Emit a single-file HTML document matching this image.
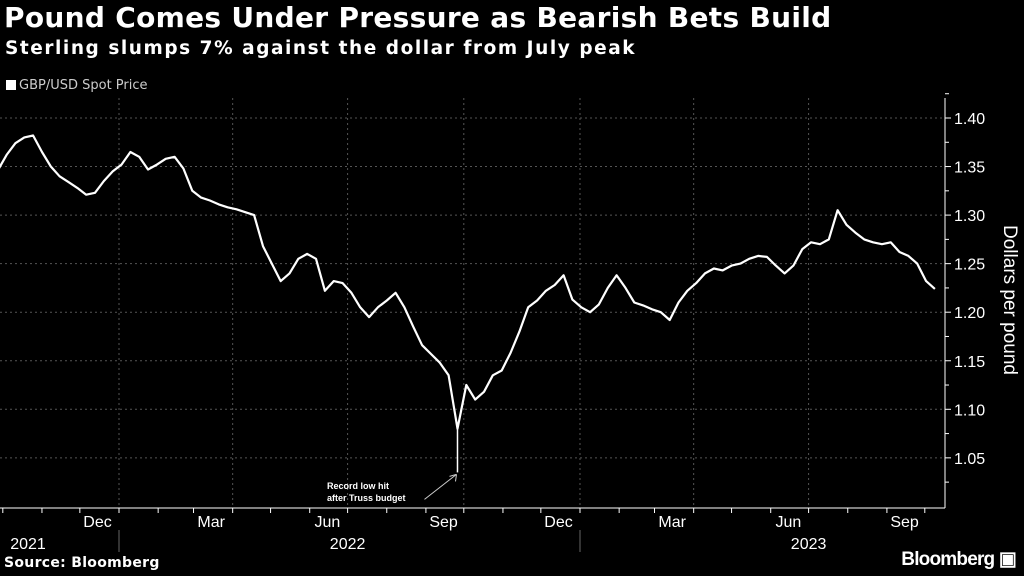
<!DOCTYPE html>
<html><head><meta charset="utf-8"><style>
body{margin:0;background:#000;width:1024px;height:576px;overflow:hidden;font-family:"Liberation Sans",sans-serif;color:#fff}
#title{position:absolute;left:4px;top:1px;font-size:28px;font-weight:bold;font-family:"DejaVu Sans",sans-serif;letter-spacing:0.3px;white-space:nowrap}
#sub{position:absolute;left:5px;top:38px;font-size:18.5px;font-weight:bold;font-family:"DejaVu Sans",sans-serif;letter-spacing:1.55px;white-space:nowrap}
#legend{position:absolute;left:6px;top:78px;font-size:13px;color:#ccc;font-family:"DejaVu Sans",sans-serif}
#legend span{display:inline-block;width:10px;height:10px;background:#fff;margin-right:3px;vertical-align:-1px}
#src{position:absolute;left:4px;top:555px;font-size:14px;font-weight:bold;font-family:"DejaVu Sans",sans-serif;letter-spacing:0.3px}
#logo{position:absolute;right:8px;top:548px;font-size:19px;font-weight:bold;letter-spacing:-0.8px}
svg{position:absolute;left:0;top:0}
</style></head><body>
<div id="title">Pound Comes Under Pressure as Bearish Bets Build</div>
<div id="sub">Sterling slumps 7% against the dollar from July peak</div>
<div id="legend"><span></span>GBP/USD Spot Price</div>
<div id="src">Source: Bloomberg</div>
<div id="logo">Bloomberg ▣</div>
<svg id="chart" width="1024" height="576"></svg>
<script>
const startDate = "2021-09-27";
const weeklyValues = [1.346,1.362,1.374,1.380,1.382,1.365,1.350,1.340,1.334,1.328,1.321,1.323,1.335,1.345,1.352,1.365,1.360,1.347,1.352,1.358,1.360,1.348,1.325,1.318,1.315,1.311,1.308,1.306,1.303,1.300,1.268,1.250,1.232,1.240,1.255,1.260,1.255,1.222,1.232,1.230,1.220,1.205,1.195,1.205,1.212,1.220,1.205,1.185,1.166,1.157,1.148,1.135,1.080,1.125,1.110,1.118,1.135,1.140,1.158,1.180,1.205,1.212,1.222,1.228,1.238,1.213,1.205,1.200,1.208,1.225,1.238,1.225,1.210,1.207,1.203,1.200,1.192,1.210,1.222,1.230,1.240,1.245,1.243,1.248,1.250,1.255,1.258,1.257,1.248,1.240,1.248,1.265,1.272,1.270,1.275,1.305,1.290,1.282,1.275,1.272,1.270,1.272,1.262,1.258,1.250,1.232,1.224];
const recordLowIndex = 52;
const recordLowValue = 1.035;
const yTicks = [1.05,1.10,1.15,1.20,1.25,1.30,1.35,1.40];
const yTickLabels = ["1.05","1.10","1.15","1.20","1.25","1.30","1.35","1.40"];
const monthLabels = ["Dec","Mar","Jun","Sep","Dec","Mar","Jun","Sep"];
const monthLabelDates = ["2021-12-15","2022-03-15","2022-06-15","2022-09-15","2022-12-15","2023-03-15","2023-06-15","2023-09-15"];
const yearLabels = ["2021","2022","2023"];

const svg=document.getElementById('chart');const NS='http://www.w3.org/2000/svg';
const PX_DAY=1.263, X0DATE=new Date("2022-01-01"), X0=119;
function xDate(d){return X0+(new Date(d)-X0DATE)/864e5*PX_DAY;}
function xIdx(i){return xDate(startDate)+i*7*PX_DAY;}
function y(v){return 118+(1.40-v)*971;}
function el(t,a,p){const e=document.createElementNS(NS,t);for(const k in a)e.setAttribute(k,a[k]);(p||svg).appendChild(e);return e;}
const L=0,R=945,T=98,B=508;
yTicks.forEach((v,i)=>{
 const g=el('line',{x1:L,x2:R,y1:y(v),y2:y(v),stroke:'#555','stroke-dasharray':'2,3'});
 
 
 el('line',{x1:R,x2:R+6,y1:y(v),y2:y(v),stroke:'#fff'});
 el('line',{x1:R,x2:R+4,y1:y(v+0.025),y2:y(v+0.025),stroke:'#fff'});
 const t=el('text',{x:R+9,y:y(v)+6,fill:'#fff','font-size':16});t.textContent=yTickLabels[i];
 
 
});
el('line',{x1:R,x2:R+4,y1:y(1.025),y2:y(1.025),stroke:'#fff'});
["2022-01-01","2022-04-01","2022-07-01","2022-10-01","2023-01-01","2023-04-01","2023-07-01"].forEach(d=>{
 const g=el('line',{x1:xDate(d),x2:xDate(d),y1:T,y2:B,stroke:'#555','stroke-dasharray':'2,3'});
 
 
});
const ya=el('line',{x1:R,x2:R,y1:T,y2:B,stroke:'#fff'});


const xa=el('line',{x1:0,x2:R,y1:B,y2:B,stroke:'#fff'});


for(let m=0;m<25;m++){const d=new Date(2021,9+m,1);const x=X0+(d-X0DATE)/864e5*PX_DAY;if(x>0&&x<R)el('line',{x1:x,x2:x,y1:B,y2:B+5,stroke:'#fff'});}
monthLabels.forEach((m,i)=>{const t=el('text',{x:xDate(monthLabelDates[i]),y:B+19,fill:'#fff','font-size':16,'text-anchor':'middle'});t.textContent=m;
 
 });
[[28],[xDate("2022-07-01")],[xDate("2023-07-01")]].forEach((p,i)=>{const t=el('text',{x:p[0],y:B+41,fill:'#fff','font-size':16,'text-anchor':'middle'});t.textContent=yearLabels[i];
 
 });
[xDate("2022-01-01"),xDate("2023-01-01")].forEach(x=>el('line',{x1:x,x2:x,y1:B+22,y2:B+44,stroke:'#666'}));
let d='';weeklyValues.forEach((v,i)=>{d+=(i?'L':'M')+xIdx(i).toFixed(1)+','+y(v).toFixed(1);});
const line=el('path',{d:d,fill:'none',stroke:'#fff','stroke-width':2.2,'stroke-linejoin':'round'});


const spike=el('line',{x1:xIdx(recordLowIndex),x2:xIdx(recordLowIndex),y1:y(weeklyValues[recordLowIndex]),y2:y(recordLowValue),stroke:'#fff','stroke-width':1.5});


const ax=xIdx(recordLowIndex)-1,ay=y(recordLowValue)+2;
el('line',{x1:ax-32,y1:ay+25,x2:ax,y2:ay,stroke:'#ccc'});
el('path',{d:`M${ax},${ay} l-7,2 M${ax},${ay} l-1,7`,stroke:'#ccc',fill:'none'});
const a1=el('text',{x:327,y:489,fill:'#fff','font-size':9,'font-weight':'bold'});a1.textContent='Record low hit';


const a2=el('text',{x:327,y:501,fill:'#fff','font-size':9,'font-weight':'bold'});a2.textContent='after Truss budget';


const yt=el('text',{transform:'translate(1004,300) rotate(90)',fill:'#fff','font-size':19,'text-anchor':'middle'});yt.textContent='Dollars per pound';


</script>
</body></html>
